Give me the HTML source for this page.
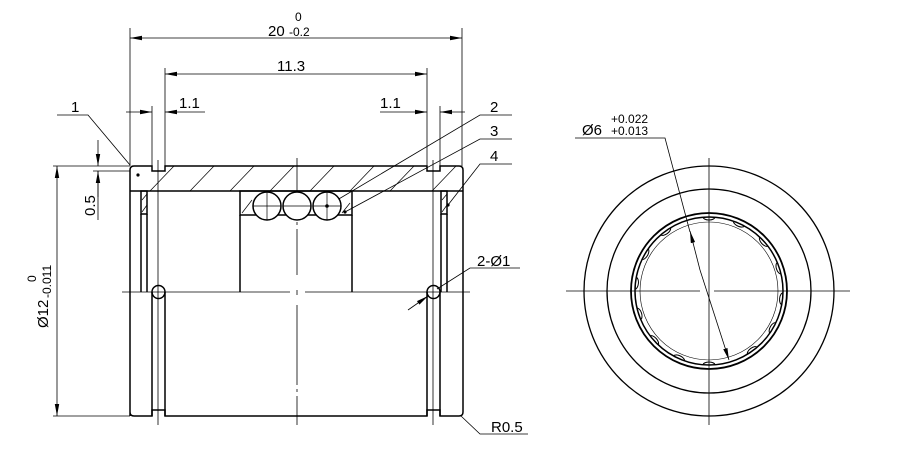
<!DOCTYPE html>
<html><head><style>body{margin:0;background:#fff}svg{display:block}text{font-family:"Liberation Sans",sans-serif;fill:#000}</style></head><body>
<svg width="900" height="466" viewBox="0 0 900 466" xmlns="http://www.w3.org/2000/svg">
<defs><marker id="a" markerWidth="12" markerHeight="6" refX="12" refY="3" orient="auto-start-reverse" markerUnits="userSpaceOnUse"><path d="M0,0.8L12,3L0,5.2z" fill="#000"/></marker></defs>
<g stroke="#000" fill="none" stroke-width="0.8">
<line x1="130" y1="28" x2="130" y2="166"/><line x1="462" y1="28" x2="462" y2="166"/>
<line x1="130" y1="38" x2="462" y2="38" marker-start="url(#a)" marker-end="url(#a)"/>
<line x1="165" y1="68" x2="165" y2="166"/><line x1="427" y1="68" x2="427" y2="166"/>
<line x1="165" y1="74" x2="427" y2="74" marker-start="url(#a)" marker-end="url(#a)"/>
<line x1="152" y1="106" x2="152" y2="166"/><line x1="440" y1="106" x2="440" y2="166"/>
<line x1="126" y1="112" x2="152" y2="112" marker-end="url(#a)"/><line x1="205" y1="112" x2="165" y2="112" marker-end="url(#a)"/>
<line x1="380" y1="112" x2="427" y2="112" marker-end="url(#a)"/><line x1="465" y1="112" x2="440" y2="112" marker-end="url(#a)"/>
<line x1="53" y1="166" x2="130" y2="166"/><line x1="93" y1="171" x2="130" y2="171"/>
<line x1="98" y1="140" x2="98" y2="166" marker-end="url(#a)"/><line x1="98" y1="197" x2="98" y2="171" marker-end="url(#a)"/>
<line x1="98" y1="171" x2="98" y2="220"/>
<line x1="53" y1="416" x2="130" y2="416"/>
<line x1="57" y1="291" x2="57" y2="166" marker-end="url(#a)"/><line x1="57" y1="291" x2="57" y2="416" marker-end="url(#a)"/>
<polyline points="57,115 88,115 130,165"/><polyline points="512,115 480,115 327,206"/><polyline points="512,139 480,139 345,212"/><polyline points="512,164 480,164 448,205"/>
<polyline points="520,268 470,268 437,289"/><line x1="408" y1="310" x2="428" y2="296" marker-end="url(#a)"/>
<polyline points="528,434 480,434 461,416"/>
<line x1="122" y1="292" x2="290" y2="292"/><line x1="305" y1="292" x2="470" y2="292"/>
<line x1="297" y1="158" x2="297" y2="275" stroke-dasharray="60,4,3,4"/><line x1="297" y1="290" x2="297" y2="295"/><line x1="297" y1="305" x2="297" y2="425" stroke-dasharray="80,4,3,4"/>
<line x1="158" y1="160" x2="158" y2="425"/><line x1="433" y1="160" x2="433" y2="425"/>
<g stroke-width="0.7"><line x1="150" y1="191" x2="174" y2="166"/><line x1="190" y1="191" x2="214" y2="166"/><line x1="230" y1="191" x2="254" y2="166"/><line x1="270" y1="191" x2="294" y2="166"/><line x1="310" y1="191" x2="334" y2="166"/><line x1="350" y1="191" x2="374" y2="166"/><line x1="390" y1="191" x2="414" y2="166"/><line x1="432" y1="191" x2="456" y2="166"/>
<line x1="142" y1="212" x2="147" y2="205"/><line x1="142" y1="200" x2="147" y2="194"/><line x1="442" y1="212" x2="447" y2="205"/><line x1="442" y1="200" x2="447" y2="194"/>
<line x1="242" y1="213" x2="252" y2="200"/><line x1="342" y1="213" x2="350" y2="203"/></g>
</g>
<g stroke="#000" fill="none" stroke-width="1.5">
<path d="M130,416 V170 Q130,166 134,166 H152 V171 H165 V166 H427 V171 H440 V166 H459 Q463,166 463,170 V412 Q463,416 459,416 H440 V410 H427 V416 H165 V410 H152 V416 H134 Q130,416 130,412"/>
<line x1="130" y1="191" x2="463" y2="191"/>
<rect x="141" y="191" width="6" height="23"/><rect x="441" y="191" width="6" height="23"/>
<line x1="141" y1="214" x2="141" y2="292"/><line x1="147" y1="214" x2="147" y2="292"/>
<line x1="441" y1="214" x2="441" y2="292"/><line x1="447" y1="214" x2="447" y2="292"/>
<path d="M152,416 V292"/><path d="M165,416 V292"/><circle cx="158.5" cy="292" r="6.5"/>
<path d="M427,416 V292"/><path d="M440,416 V292"/><circle cx="433.5" cy="292" r="6.5"/>
<rect x="240" y="191" width="112" height="24"/>
<line x1="240" y1="215" x2="240" y2="292"/><line x1="352" y1="215" x2="352" y2="292"/>
<circle cx="267" cy="206" r="14" fill="#fff"/><circle cx="297" cy="206" r="14" fill="#fff"/><circle cx="327" cy="206" r="14" fill="#fff"/>
</g>
<g stroke="#000" stroke-width="0.7"><line x1="253" y1="206" x2="281" y2="206"/><line x1="267" y1="192" x2="267" y2="220"/><line x1="283" y1="206" x2="311" y2="206"/><line x1="313" y1="206" x2="341" y2="206"/><line x1="327" y1="192" x2="327" y2="220"/></g>
<g fill="#000"><circle cx="138" cy="175" r="1.6"/><circle cx="327" cy="206" r="1.8"/><circle cx="345" cy="212" r="1.6"/><circle cx="448" cy="205" r="1.6"/></g>
<g stroke="#000" fill="none">
<circle cx="709" cy="291" r="125" stroke-width="1.3"/><circle cx="709" cy="291" r="102" stroke-width="1.3"/>
<circle cx="709" cy="291" r="78" stroke-width="1.8"/><circle cx="709" cy="291" r="74" stroke-width="1.5"/>
<circle cx="709" cy="291" r="69" stroke-width="0.6"/>
<line x1="566" y1="291" x2="700" y2="291" stroke-width="0.8"/><line x1="714" y1="291" x2="850" y2="291" stroke-width="0.8"/>
<line x1="709" y1="158" x2="709" y2="425" stroke-width="0.8"/>
<polyline points="575,138 665,138 690,232" stroke-width="0.8"/>
<line x1="700" y1="270" x2="690" y2="231" stroke-width="0.8" marker-end="url(#a)"/>
<line x1="700" y1="270" x2="729" y2="360" stroke-width="0.8" marker-end="url(#a)"/>
<g stroke-width="1"><path d="M703,217 a6,3 0 0 0 12,0"/><path d="M703,365 a6,3 0 0 1 12,0"/></g>
<g stroke-width="1" transform="translate(709 291)">
<path d="M-6,-74 a6,3 0 0 0 12,0" transform="rotate(24)"/><path d="M-6,-74 a6,3 0 0 0 12,0" transform="rotate(48)"/><path d="M-6,-74 a6,3 0 0 0 12,0" transform="rotate(72)"/><path d="M-6,-74 a6,3 0 0 0 12,0" transform="rotate(96)"/><path d="M-6,-74 a6,3 0 0 0 12,0" transform="rotate(120)"/><path d="M-6,-74 a6,3 0 0 0 12,0" transform="rotate(144)"/><path d="M-6,-74 a6,3 0 0 0 12,0" transform="rotate(204)"/><path d="M-6,-74 a6,3 0 0 0 12,0" transform="rotate(228)"/><path d="M-6,-74 a6,3 0 0 0 12,0" transform="rotate(252)"/><path d="M-6,-74 a6,3 0 0 0 12,0" transform="rotate(276)"/><path d="M-6,-74 a6,3 0 0 0 12,0" transform="rotate(300)"/><path d="M-6,-74 a6,3 0 0 0 12,0" transform="rotate(324)"/></g>
</g>
<g font-size="15">
<text x="268" y="36">20</text><text x="295" y="21" font-size="12">0</text><text x="289" y="36" font-size="12">-0.2</text>
<text x="277" y="71">11.3</text>
<text x="179" y="108">1.1</text><text x="380" y="108">1.1</text>
<text x="71" y="112">1</text><text x="490" y="112">2</text><text x="490" y="136">3</text><text x="490" y="161">4</text>
<text x="477" y="266">2-Ø1</text><text x="491" y="432">R0.5</text>
<text x="0" y="0" transform="translate(95 216) rotate(-90)">0.5</text>
<text x="0" y="0" transform="translate(48 328) rotate(-90)">Ø12</text>
<text x="0" y="0" transform="translate(36 282) rotate(-90)" font-size="12">0</text>
<text x="0" y="0" transform="translate(51 298) rotate(-90)" font-size="12">-0.011</text>
<text x="582" y="135">Ø6</text><text x="611" y="123" font-size="12">+0.022</text><text x="611" y="135" font-size="12">+0.013</text>
</g>
</svg>
</body></html>
